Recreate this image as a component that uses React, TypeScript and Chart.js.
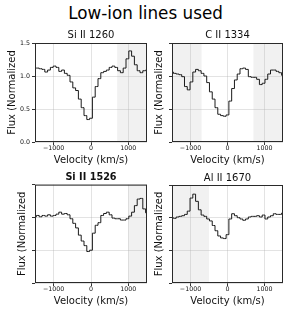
import React, { useEffect, useRef } from 'react';
import { Chart, registerables } from 'chart.js';

Chart.register(...registerables);

// ---- data ----
const velocities = [
  -1500, -1425, -1350, -1275, -1200, -1125, -1050, -975, -900, -825, -750,
  -675, -600, -525, -450, -375, -300, -225, -150, -75, 0, 75, 150, 225, 300,
  375, 450, 525, 600, 675, 750, 825, 900, 975, 1050, 1125, 1200, 1275, 1350,
  1425, 1500,
];

const siII1260 = [
  1.12, 1.12, 1.11, 1.1, 1.06, 1.09, 1.13, 1.15, 1.13, 1.07, 1.09, 1.04, 1.01,
  0.91, 0.82, 0.78, 0.65, 0.52, 0.4, 0.34, 0.36, 0.68, 0.84, 0.96, 1.05, 1.07,
  1.09, 1.13, 1.15, 1.13, 1.08, 1.05, 1.12, 1.26, 1.38, 1.3, 1.17, 1.08, 1.05,
  1.08, 1.09,
];

const cII1334 = [
  1.06, 1.04, 1.03, 1.02, 0.99, 0.84, 0.79, 0.91, 1.06, 1.1, 1.08, 1.04, 1.0,
  0.9, 0.76, 0.65, 0.52, 0.42, 0.4, 0.39, 0.41, 0.62, 0.81, 0.94, 1.03, 1.11,
  1.12, 1.1, 0.99, 0.98, 0.98, 0.95, 0.87, 0.89, 0.95, 1.03, 1.09, 1.09, 1.07,
  1.05, 1.01,
];

const siII1526 = [
  1.01, 1.03, 1.01, 1.03, 1.02, 1.04, 1.02, 1.03, 1.05, 1.08, 1.05, 1.06, 1.04,
  0.98, 0.91, 0.84, 0.73, 0.64, 0.57, 0.48, 0.5, 0.76, 0.88, 0.92, 1.03, 1.06,
  1.08, 1.04, 0.99, 0.98, 0.98, 0.96, 0.96, 0.98, 1.02, 1.08, 1.18, 1.28, 1.29,
  1.13, 1.07,
];

const alII1670 = [
  1.0, 0.99, 1.01, 1.02, 1.03, 1.05, 1.1, 1.3, 1.36, 1.25, 1.12, 1.04, 1.02,
  0.98, 0.95, 0.88, 0.8, 0.72, 0.69, 0.68, 0.74, 0.98, 1.06, 1.03, 1.0, 0.98,
  0.96, 0.98, 1.01, 1.02, 1.02, 1.03, 1.01, 1.04, 0.98, 1.01, 1.03, 1.06, 1.05,
  1.05, 1.07,
];

// masked (shaded) velocity ranges per panel
const shadeSiII1260 = [[700, 1500]];
const shadeCII1334 = [[-1500, -700], [700, 1500]];
const shadeSiII1526 = [[1000, 1500]];
const shadeAlII1670 = [[-1500, -500]];

const xTickValues = [-1000, 0, 1000];
const xTickLabels = ['\u22121000', '0', '1000'];
const yTickValues = [0, 0.5, 1.0, 1.5];
const yTickLabels = ['0.0', '0.5', '1.0', '1.5'];

const FONT = 'DejaVu Sans';
Chart.defaults.font.family = FONT;

type PanelProps = {
  title: string;
  bold?: boolean;
  values: number[];
  shades: number[][];
  showYTicks: boolean;
  left: number;
  top: number;
  width: number;
  height: number;
  yAxisWidth: number;
  yTitlePad: number;
  titlePadBottom: number;
  rightPad: number;
};

function Panel(p: PanelProps) {
  const ref = useRef<HTMLCanvasElement | null>(null);
  useEffect(() => {
    if (!ref.current) return;
    const shadePlugin = {
      id: 'shade',
      beforeDraw(chart: any) {
        const { ctx, chartArea } = chart;
        const xs = chart.scales.x;
        ctx.save();
        ctx.fillStyle = 'rgba(128,128,128,0.11)';
        for (const [a, b] of p.shades) {
          const x1 = Math.max(xs.getPixelForValue(a), chartArea.left);
          const x2 = Math.min(xs.getPixelForValue(b), chartArea.right);
          ctx.fillRect(x1, chartArea.top, x2 - x1, chartArea.bottom - chartArea.top);
        }
        ctx.restore();
      },
      afterDraw(chart: any) {
        const { ctx, chartArea } = chart;
        ctx.save();
        ctx.strokeStyle = '#2a2a2a';
        ctx.lineWidth = 1;
        ctx.strokeRect(
          chartArea.left + 0.5,
          chartArea.top + 0.5,
          chartArea.right - chartArea.left - 1,
          chartArea.bottom - chartArea.top - 1
        );
        ctx.restore();
      },
    };
    const tickFont = { family: FONT, size: 6.3 };
    const labelFont = { family: FONT, size: 10 };
    const chart = new Chart(ref.current, {
      type: 'line',
      data: {
        datasets: [
          {
            data: velocities.map((v, i) => ({ x: v, y: p.values[i] })),
            stepped: 'middle',
            borderColor: '#1a1a1a',
            borderWidth: 1,
            pointRadius: 0,
            fill: false,
          },
        ],
      },
      options: {
        animation: false,
        responsive: false,
        maintainAspectRatio: false,
        layout: { padding: { left: 0, right: p.rightPad, top: 0, bottom: 0 } },
        plugins: {
          legend: { display: false },
          tooltip: { enabled: false },
          title: {
            display: true,
            text: p.title,
            fullSize: false,
            color: '#111',
            font: { family: FONT, size: p.bold ? 9.7 : 10, weight: p.bold ? 'bold' : 'normal', lineHeight: 1.2 },
            padding: { top: 0, bottom: p.titlePadBottom },
          },
        },
        scales: {
          x: {
            type: 'linear',
            min: -1500,
            max: 1500,
            afterBuildTicks: (s: any) => {
              s.ticks = xTickValues.map((v) => ({ value: v }));
            },
            afterFit: (s: any) => {
              s.height = 24;
            },
            ticks: {
              autoSkip: false,
              maxRotation: 0,
              padding: 0,
              color: '#111',
              font: tickFont,
              callback: (v: any) => xTickLabels[xTickValues.indexOf(Number(v))] ?? '',
            },
            grid: {
              color: 'rgba(176,176,176,0.35)',
              tickColor: '#333',
              tickLength: 3,
              lineWidth: 1,
            },
            border: { display: false },
            title: {
              display: true,
              text: 'Velocity (km/s)',
              color: '#111',
              font: labelFont,
              padding: 0,
            },
          },
          y: {
            type: 'linear',
            min: 0,
            max: 1.5,
            afterBuildTicks: (s: any) => {
              s.ticks = yTickValues.map((v) => ({ value: v }));
            },
            afterFit: (s: any) => {
              s.width = p.yAxisWidth;
            },
            ticks: {
              display: p.showYTicks,
              padding: 2,
              color: '#111',
              font: tickFont,
              callback: (v: any) => yTickLabels[yTickValues.indexOf(Number(v))] ?? '',
            },
            grid: {
              color: 'rgba(176,176,176,0.35)',
              tickColor: '#333',
              tickLength: 3,
              lineWidth: 1,
            },
            border: { display: false },
            title: {
              display: true,
              text: 'Flux (Normalized',
              color: '#111',
              font: labelFont,
              padding: { top: p.yTitlePad, bottom: 0 },
            },
          },
        },
      } as any,
      plugins: [shadePlugin],
    });
    return () => chart.destroy();
  }, []);
  return (
    <canvas
      ref={ref}
      width={p.width}
      height={p.height}
      style={{ position: 'absolute', left: p.left, top: p.top, width: p.width, height: p.height }}
    />
  );
}

export default function App() {
  return (
    <div
      style={{
        position: 'fixed',
        left: 0,
        top: 0,
        width: 291,
        height: 315,
        background: '#fff',
        overflow: 'hidden',
      }}
    >
      <div
        style={{
          position: 'absolute',
          left: 0,
          top: 5,
          width: 291,
          textAlign: 'center',
          fontFamily: FONT,
          fontSize: '16.8px',
          lineHeight: 1,
          color: '#000',
          whiteSpace: 'nowrap',
        }}
      >
        Low-ion lines used
      </div>
      <Panel title="Si II 1260" values={siII1260} shades={shadeSiII1260} showYTicks={true}
        left={0} top={29} width={150} height={137} yAxisWidth={35} yTitlePad={6.5} titlePadBottom={2} rightPad={3} />
      <Panel title="C II 1334" values={cII1334} shades={shadeCII1334} showYTicks={false}
        left={150} top={29} width={136} height={137} yAxisWidth={22} yTitlePad={3.4} titlePadBottom={2} rightPad={3} />
      <Panel title="Si II 1526" bold values={siII1526} shades={shadeSiII1526} showYTicks={false}
        left={0} top={172} width={150} height={135} yAxisWidth={35} yTitlePad={16.3} titlePadBottom={1} rightPad={3} />
      <Panel title="Al II 1670" values={alII1670} shades={shadeAlII1670} showYTicks={false}
        left={150} top={172} width={136} height={135} yAxisWidth={22} yTitlePad={3.4} titlePadBottom={1} rightPad={3} />
    </div>
  );
}
